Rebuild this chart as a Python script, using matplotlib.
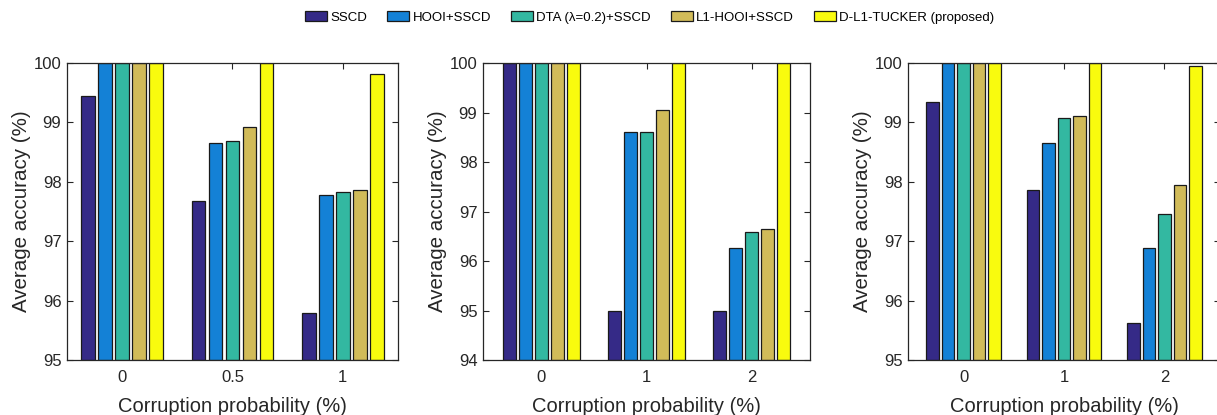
import matplotlib.pyplot as plt
import numpy as np

plt.rcParams['font.family'] = ['Liberation Sans', 'DejaVu Sans']

methods = ["SSCD", "HOOI+SSCD", "DTA (\u03bb=0.2)+SSCD", "L1-HOOI+SSCD", "D-L1-TUCKER (proposed)"]
colors = ["#352A87", "#1481D6", "#33B8A1", "#D1BB59", "#F9FB0E"]

# corruption probabilities (%) for each experiment
probs_a = ["0", "0.5", "1"]
probs_b = ["0", "1", "2"]
probs_c = ["0", "1", "2"]

# average accuracy (%), rows = corruption level, cols = method
acc_a = [[99.44, 100.0, 100.0, 100.0, 100.0],
         [97.68, 98.65, 98.69, 98.92, 100.0],
         [95.79, 97.78, 97.83, 97.87, 99.81]]
acc_b = [[100.0, 100.0, 100.0, 100.0, 100.0],
         [95.0, 98.6, 98.6, 99.05, 100.0],
         [95.0, 96.26, 96.59, 96.64, 100.0]]
acc_c = [[99.34, 100.0, 100.0, 100.0, 100.0],
         [97.87, 98.66, 99.08, 99.11, 100.0],
         [95.63, 96.89, 97.46, 97.94, 99.95]]

ylims = [(95, 100), (94, 100), (95, 100)]
xlims = [(-0.5, 2.5), (-0.556, 2.556), (-0.553, 2.553)]
# axes rectangles in pixels (left, width)
W, H = 1217, 415
boxes = [(67, 331), (483, 327), (908, 312)]

ink = "#262626"
fig = plt.figure(figsize=(W / 100, H / 100), dpi=100)

pitch = 0.154
width = 0.123
for (x0, w), probs, acc, yl, xl in zip(boxes, [probs_a, probs_b, probs_c],
                                       [acc_a, acc_b, acc_c], ylims, xlims):
    ax = fig.add_axes([x0 / W, (H - 360) / H, w / W, 297 / H])
    acc = np.array(acc)
    x = np.arange(len(probs))
    for j in range(len(methods)):
        ax.bar(x + (j - 2) * pitch, acc[:, j] - yl[0], width, bottom=yl[0],
               color=colors[j], edgecolor="#1a1a1a", linewidth=0.9,
               label=methods[j], zorder=2)
    ax.set_xlim(*xl)
    ax.set_ylim(*yl)
    ax.set_xticks(x)
    ax.set_xticklabels(probs)
    ax.set_yticks(np.arange(yl[0], yl[1] + 1))
    ax.tick_params(direction="in", top=True, right=True, length=4,
                   width=0.8, colors=ink, labelsize=12, pad=4)
    ax.tick_params(axis="x", pad=7)
    for s in ax.spines.values():
        s.set_color(ink)
        s.set_linewidth(0.9)
    ax.set_xlabel("Corruption probability (%)", fontsize=14.5, color=ink, labelpad=9)
    ax.set_ylabel("Average accuracy (%)", fontsize=14.8, color=ink, labelpad=2)

handles, labels = ax.get_legend_handles_labels()
fig.legend(handles, labels, loc="center", bbox_to_anchor=(0.534, 0.958), ncol=5,
           frameon=False, fontsize=9.5, handlelength=1.67, handleheight=0.83,
           handletextpad=0.25, columnspacing=1.5, borderaxespad=0)

fig.savefig("out.png", dpi=100)
